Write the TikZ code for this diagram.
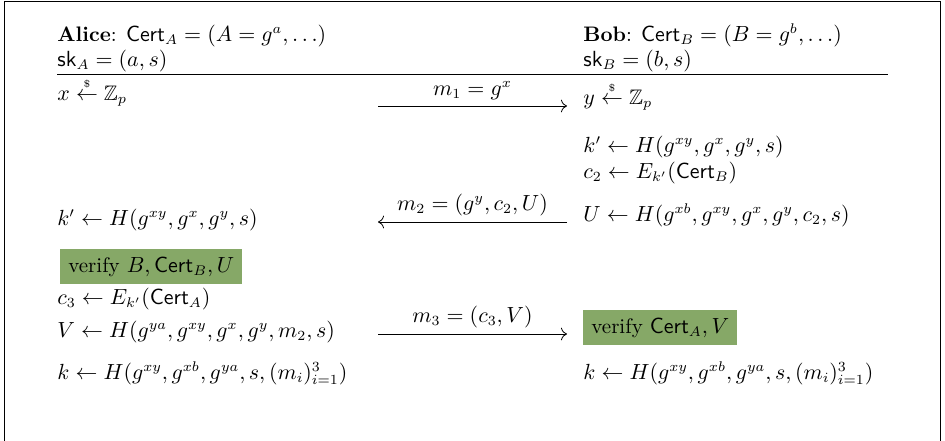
\documentclass[tikz,border=0pt]{standalone}
\usepackage{amsmath}
\usepackage{amssymb}
\usetikzlibrary{arrows.meta, positioning}
\definecolor{verif}{HTML}{86A867}
\newcommand{\Cert}{\mathsf{Cert}}
\newcommand{\sk}{\mathsf{sk}}
\newcommand{\smp}{\overset{\scriptscriptstyle\$}{\leftarrow}}
\tikzset{
  line/.style={anchor=base west, inner sep=0pt, font=\fontsize{10.5}{12.6}\selectfont},
  chk/.style={line, fill=verif, inner xsep=4pt, inner ysep=4pt},
  msg/.style={-{To[length=3pt]}, thin},
  lbl/.style={above, inner sep=3pt, font=\fontsize{10.5}{12.6}\selectfont},
}
\begin{document}
\begin{tikzpicture}[x=0.5pt,y=-0.5pt]
\useasboundingbox (0,0) rectangle (945,440);
\draw (4,445) -- (4,1.5) -- (940,1.5) -- (940,445);
% parties
\node[line] (alice) at (57,41) {\textbf{Alice}: $\Cert_A = (A = g^a, \ldots)$};
\node[line] (skA) at (57,66) {$\sk_A = (a, s)$};
\node[line] (bob) at (583,41) {\textbf{Bob}: $\Cert_B = (B = g^b, \ldots)$};
\node[line] (skB) at (583,66) {$\sk_B = (b, s)$};
\draw (57,74) -- (888,74);
% protocol
\node[line] (xs) at (57,100) {$x \smp \mathbb{Z}_p$};
\node[line] (ys) at (583,104) {$y \smp \mathbb{Z}_p$};
\node[line] (kB) at (583,152) {$k' \leftarrow H(g^{xy}, g^x, g^y, s)$};
\node[line] (c2) at (583,178) {$c_2 \leftarrow E_{k'}(\Cert_B)$};
\node[line] (kA) at (57,225) {$k' \leftarrow H(g^{xy}, g^x, g^y, s)$};
\node[line] (U) at (583,221) {$U \leftarrow H(g^{xb}, g^{xy}, g^x, g^y, c_2, s)$};
\node[chk] (vA) at (60,272) {verify $B, \Cert_B, U$};
\node[line] (c3) at (57,304) {$c_3 \leftarrow E_{k'}(\Cert_A)$};
\node[line] (V) at (57,337) {$V \leftarrow H(g^{ya}, g^{xy}, g^x, g^y, m_2, s)$};
\node[chk] (vB) at (583,333) {verify $\Cert_A, V$};
\node[line] (kfA) at (57,379) {$k \leftarrow H(g^{xy}, g^{xb}, g^{ya}, s, (m_i)_{i=1}^3)$};
\node[line] (kfB) at (583,379) {$k \leftarrow H(g^{xy}, g^{xb}, g^{ya}, s, (m_i)_{i=1}^3)$};
% messages
\coordinate (m1a) at (378,106); \coordinate (m1b) at (567,106);
\coordinate (m2a) at (567,222); \coordinate (m2b) at (378,222);
\coordinate (m3a) at (378,334); \coordinate (m3b) at (567,334);
\draw[msg] (m1a) -- node[lbl] (m1) {$m_1 = g^x$} (m1b);
\draw[msg] (m2a) -- node[lbl] (m2) {$m_2 = (g^y, c_2, U)$} (m2b);
\draw[msg] (m3a) -- node[lbl] (m3) {$m_3 = (c_3, V)$} (m3b);
\end{tikzpicture}
\end{document}
